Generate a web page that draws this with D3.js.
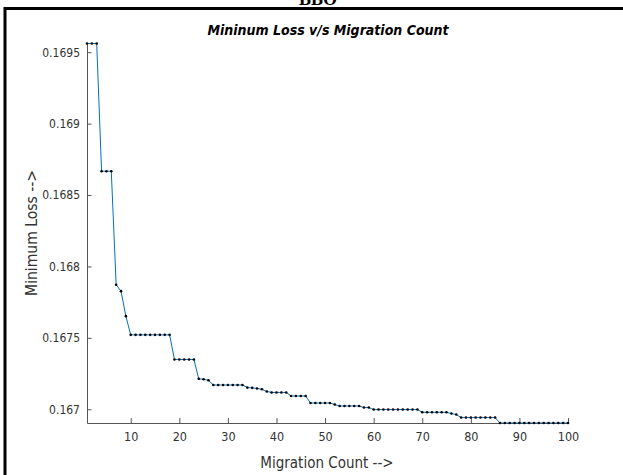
<!DOCTYPE html>
<html>
<head>
<meta charset="utf-8">
<script src="https://cdn.jsdelivr.net/npm/d3@7"></script>
<style>
  body { margin: 0; background: #fff; }
  svg text { font-family: "Liberation Sans Narrow", "DejaVu Sans Condensed", "Liberation Sans", Arial, sans-serif; }
</style>
</head>
<body>
<div id="chart"></div>
<script>
// Migration count 1..100 and minimum loss
const migration = d3.range(1, 101);
const minLoss = [
  0.169561, 0.169561, 0.169561, 0.168667, 0.168667, 0.168667, 0.167872, 0.167827, 0.167652, 0.167521,
  0.167521, 0.167521, 0.167521, 0.167521, 0.167521, 0.167521, 0.167521, 0.167521, 0.167349, 0.167349,
  0.167349, 0.167349, 0.167349, 0.167213, 0.167210, 0.167203, 0.167170, 0.167170, 0.167170, 0.167170,
  0.167170, 0.167170, 0.167170, 0.167152, 0.167150, 0.167146, 0.167140, 0.167125, 0.167118, 0.167118,
  0.167118, 0.167118, 0.167093, 0.167093, 0.167093, 0.167093, 0.167044, 0.167044, 0.167044, 0.167044,
  0.167044, 0.167033, 0.167023, 0.167023, 0.167023, 0.167023, 0.167023, 0.167012, 0.167012, 0.166998,
  0.166998, 0.166998, 0.166998, 0.166998, 0.166998, 0.166998, 0.166998, 0.166998, 0.166998, 0.166979,
  0.166979, 0.166979, 0.166979, 0.166979, 0.166979, 0.166970, 0.166963, 0.166942, 0.166942, 0.166942,
  0.166942, 0.166942, 0.166942, 0.166942, 0.166942, 0.166904, 0.166904, 0.166904, 0.166904, 0.166904,
  0.166904, 0.166904, 0.166904, 0.166904, 0.166904, 0.166904, 0.166904, 0.166904, 0.166904, 0.166904
];
const xTicks = [10, 20, 30, 40, 50, 60, 70, 80, 90, 100];
const yTicks = [0.167, 0.1675, 0.168, 0.1685, 0.169, 0.1695];
const yTickLabels = ["0.167", "0.1675", "0.168", "0.1685", "0.169", "0.1695"];

const W = 623, H = 475;
const svg = d3.select("#chart").append("svg").attr("width", W).attr("height", H);

// outer frame (left + top edges visible)
svg.append("path")
  .attr("d", "M5,480 L5,8.5 L630,8.5")
  .attr("fill", "none").attr("stroke", "#000").attr("stroke-width", 3);

// heading above the frame, mostly cropped like in the source
svg.append("text")
  .attr("x", 318).attr("y", 5)
  .attr("text-anchor", "middle")
  .style("font-family", "'Liberation Serif', 'Times New Roman', serif")
  .style("font-weight", "bold").style("font-size", "18px")
  .text("BBO");

const x = d3.scaleLinear().domain([1, 100]).range([87, 568]);
const y = d3.scaleLinear().domain([d3.min(minLoss), d3.max(minLoss)]).range([423, 43.5]);

const axisColor = "#555";

// x axis
const gx = svg.append("g").attr("transform", "translate(0,423)")
  .call(d3.axisBottom(x).tickValues(xTicks).tickSizeInner(-5).tickSizeOuter(0).tickPadding(9));
gx.select(".domain").attr("stroke", axisColor);
gx.selectAll(".tick line").attr("stroke", axisColor);
gx.selectAll(".tick text").attr("fill", "#333").style("font-size", "12.5px");

// y axis
const gy = svg.append("g").attr("transform", "translate(87,0)")
  .call(d3.axisLeft(y).tickValues(yTicks).tickFormat((d, i) => yTickLabels[i])
    .tickSizeInner(-4.5).tickSizeOuter(0).tickPadding(7));
gy.select(".domain").attr("stroke", axisColor);
gy.selectAll(".tick line").attr("stroke", axisColor);
gy.selectAll(".tick text").attr("fill", "#333").style("font-size", "12px");

// line + markers
const line = d3.line().x((d, i) => x(migration[i])).y(d => y(d));
svg.append("path").datum(minLoss)
  .attr("d", line).attr("fill", "none")
  .attr("stroke", "#0072BD").attr("stroke-width", 1);

svg.append("g").selectAll("circle").data(minLoss).join("circle")
  .attr("cx", (d, i) => x(migration[i])).attr("cy", d => y(d))
  .attr("r", 1.3).attr("fill", "#000");

// title and axis labels
svg.append("text")
  .attr("x", 328).attr("y", 35).attr("text-anchor", "middle")
  .style("font-size", "14px").style("font-weight", "bold").style("font-style", "italic")
  .attr("fill", "#000")
  .text("Mininum Loss v/s Migration Count");

svg.append("text")
  .attr("x", 327).attr("y", 468).attr("text-anchor", "middle")
  .style("font-size", "15px").attr("fill", "#333")
  .text("Migration Count -->");

svg.append("text")
  .attr("transform", "translate(37,233) rotate(-90)")
  .attr("text-anchor", "middle")
  .style("font-size", "15.5px").attr("fill", "#333")
  .text("Minimum Loss -->");
</script>
</body>
</html>
